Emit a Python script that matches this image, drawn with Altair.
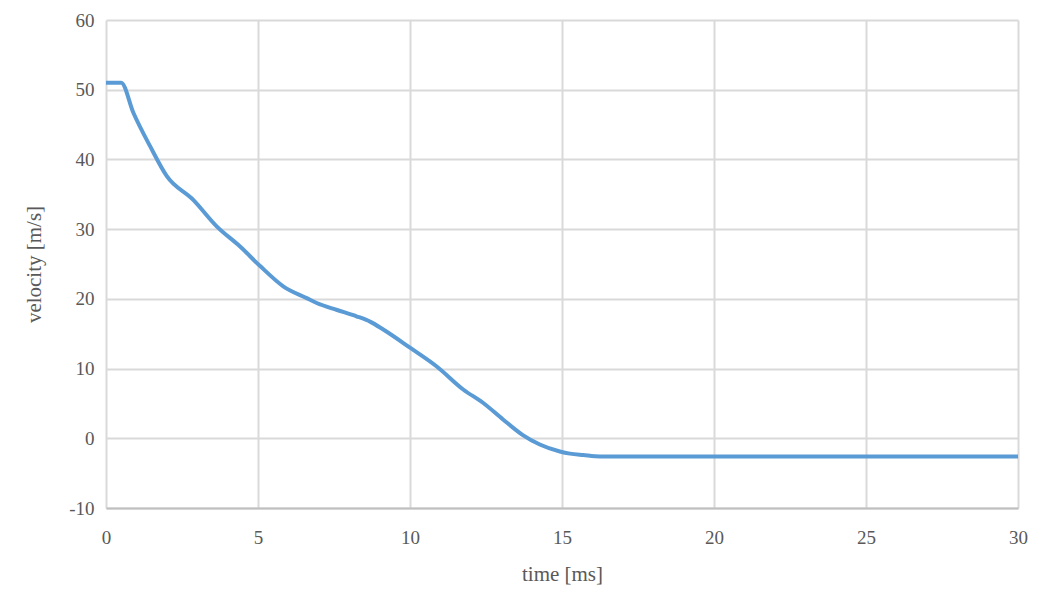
import altair as alt
import pandas as pd

time_ms = [0, 0.5, 0.9, 1.45, 2.0, 2.87, 3.64, 4.41, 5.07, 5.83, 6.6, 6.93, 7.6, 8.24, 8.7,
           9.12, 10.0, 10.88, 11.75, 12.4, 13.06, 13.7, 14.27, 14.93, 15.26, 15.7, 16.25,
           20, 25, 30]
velocity = [51.0, 51.0, 46.7, 41.9, 37.6, 34.2, 30.4, 27.5, 24.7, 21.8, 20.1, 19.4, 18.4,
            17.5, 16.7, 15.6, 13.0, 10.3, 7.0, 5.1, 2.7, 0.5, -0.9, -1.9, -2.2, -2.4, -2.6,
            -2.6, -2.6, -2.6]

df = pd.DataFrame({"t": time_ms, "v": velocity})

font = "Liberation Serif"

chart = alt.Chart(df).mark_line(color="#5b9bd5", strokeWidth=4, interpolate="monotone").encode(
    x=alt.X("t:Q", scale=alt.Scale(domain=[0, 30], nice=False),
            axis=alt.Axis(title="time [ms]", values=[0, 5, 10, 15, 20, 25, 30],
                          labelPadding=20, titlePadding=16, labelFlush=False, domain=True,
                          domainColor="#bfbfbf", domainWidth=2, ticks=False,
                          gridColor="#d9d9d9", gridWidth=2)),
    y=alt.Y("v:Q", scale=alt.Scale(domain=[-10, 60], nice=False),
            axis=alt.Axis(title="velocity [m/s]", values=[-10, 0, 10, 20, 30, 40, 50, 60],
                          labelExpr="toString(datum.value)",
                          labelPadding=12, titlePadding=24, domain=False, ticks=False,
                          gridColor="#d9d9d9", gridWidth=2)),
).properties(
    width=912, height=488,
    autosize=alt.AutoSizeParams(type="none"),
    padding={"left": 98, "top": 12, "right": 15, "bottom": 80},
).configure_axis(
    labelFont=font, titleFont=font, labelFontSize=19, titleFontSize=21,
    labelColor="#595959", titleColor="#595959", titleFontWeight="normal",
).configure_view(stroke=None)

chart.save("out.html", embed_options={"renderer": "svg", "actions": False})
